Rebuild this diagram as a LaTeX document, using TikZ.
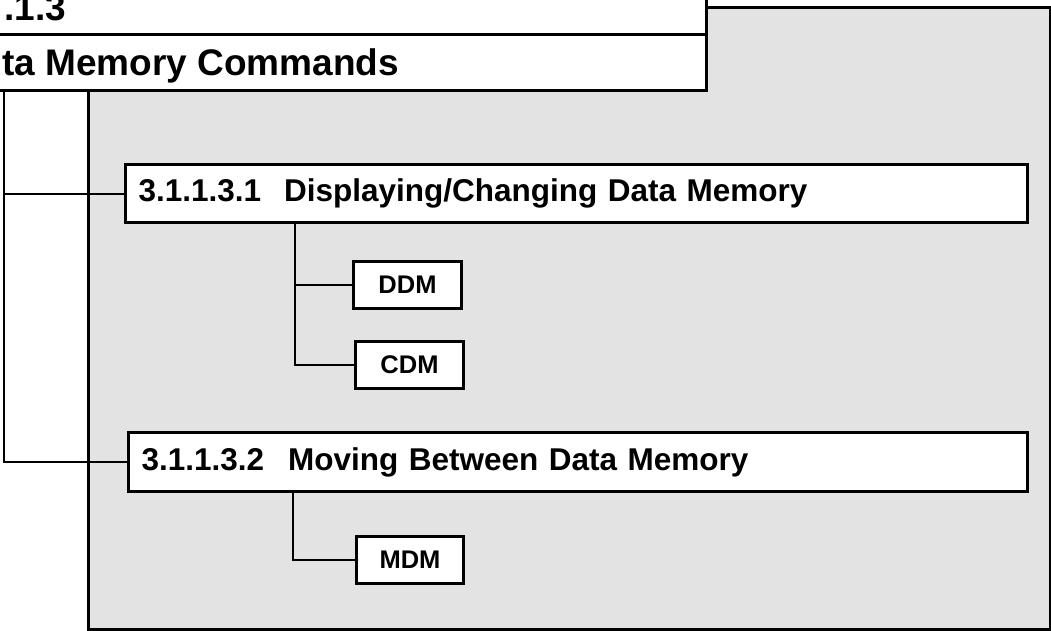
\documentclass[tikz,border=0pt]{standalone}
\usepackage{fontspec}
\setmainfont{Liberation Sans}
\definecolor{panelgray}{HTML}{E3E3E3}
\tikzset{
  panelbox/.style={draw=black, line width=3pt, fill=panelgray, rectangle, anchor=north west, inner sep=0pt},
  hdrbox/.style={draw=black, line width=3pt, fill=white, rectangle, anchor=north west, inner sep=0pt},
  hdrtext/.style={anchor=base west, inner sep=0pt, font=\bfseries\fontsize{37}{40}\selectfont},
  secbox/.style={draw=black, line width=3pt, fill=white, rectangle, anchor=north west, inner ysep=0pt, align=left,
                 font=\bfseries\fontsize{31.5}{36}\selectfont},
  cmdbox/.style={draw=black, line width=3pt, fill=white, rectangle, anchor=north west, inner sep=0pt,
                 minimum width=108pt, minimum height=47pt, font=\bfseries\fontsize{25.5}{30}\selectfont},
  conn/.style={draw=black, line width=2pt}
}
\begin{document}
\begin{tikzpicture}[x=1pt,y=-1pt]
\useasboundingbox (0,0) rectangle (1051,631);
% grey panel
\node[panelbox, minimum width=962pt, minimum height=622pt] (panel) at (87,6) {};
% header rows
\node[hdrbox, minimum width=735pt, minimum height=63pt] (hdrA) at (-30,-30) {};
\node[hdrbox, minimum width=735pt, minimum height=56pt] (hdrB) at (-30,33) {};
\node[hdrtext] (hdrAt) at (4,21) {.1.3};
\node[hdrtext] (hdrBt) at (2,76) {ta Memory Commands};
% connector anchors
\coordinate (ltop) at (4,89);
\coordinate (v1) at (295,0);
\coordinate (v2) at (293,0);
% section boxes
\node[secbox, minimum width=902pt, minimum height=58pt, inner xsep=13pt, text width=876pt] (b1) at (124,163)
  {3.1.1.3.1\hspace{23pt}Displaying/Changing Data Memory};
\node[secbox, minimum width=899pt, minimum height=59pt, inner xsep=13pt, text width=873pt] (b2) at (127,431)
  {3.1.1.3.2\hspace{24pt}Moving Between Data Memory};
% command boxes
\node[cmdbox] (ddm) at (352,260) {DDM};
\node[cmdbox] (cdm) at (354,340) {CDM};
\node[cmdbox, minimum width=107pt] (mdm) at (355,535) {MDM};
% connector lines
\draw[conn] (ltop) |- (b2.west);
\draw[conn] (ltop |- b1.west) -- (b1.west);
\draw[conn] (b1.south -| v1) |- (cdm.west);
\draw[conn] (v1 |- ddm.west) -- (ddm.west);
\draw[conn] (b2.south -| v2) |- (mdm.west);
\end{tikzpicture}
\end{document}
